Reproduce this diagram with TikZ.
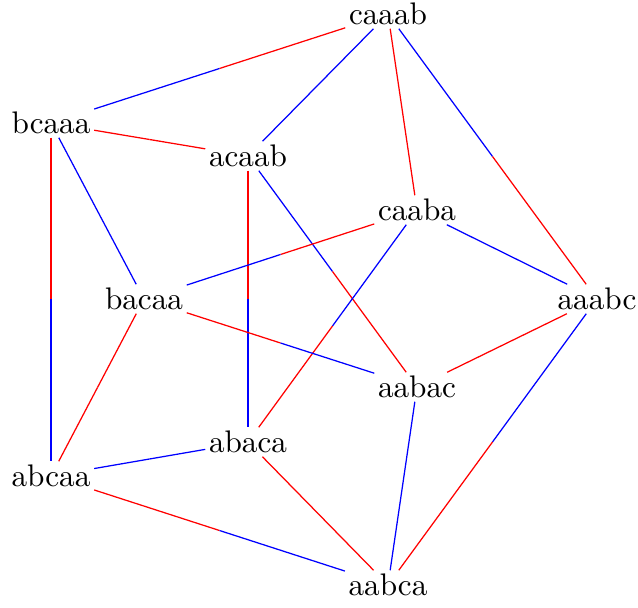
\documentclass[tikz,border=0pt]{standalone}
\usetikzlibrary{calc}
\tikzset{
  %% word node
  W/.style={inner sep=1pt, font=\normalsize},
  %% one half of an edge
  H/.style={line width=0.4pt, color=#1},
}
\begin{document}
\begin{tikzpicture}[x=0.3205pt, y=-0.3205pt]

%% ════════════════════════════════════════════════
%%  FRAME  (pixel coordinates, y grows downwards)
%% ════════════════════════════════════════════════
\useasboundingbox (0,0) rectangle (638,608);

%% ════════════════════════════════════════════════
%%  WORDS
%% ════════════════════════════════════════════════
\node[W] (caaab) at (388,  14) {caaab};
\node[W] (bcaaa) at ( 51, 123) {bcaaa};
\node[W] (acaab) at (248, 156) {acaab};
\node[W] (caaba) at (417, 210) {caaba};
\node[W] (bacaa) at (144, 299) {bacaa};
\node[W] (aaabc) at (597, 299) {aaabc};
\node[W] (aabac) at (417, 387) {aabac};
\node[W] (abaca) at (248, 442) {abaca};
\node[W] (abcaa) at ( 51, 476) {abcaa};
\node[W] (aabca) at (388, 585) {aabca};

%% ════════════════════════════════════════════════
%%  EDGES  (colour of the half at each end)
%% ════════════════════════════════════════════════
\foreach \p/\q/\cp/\cq in {
  caaab/bcaaa/red/blue,   caaab/acaab/blue/blue,
  caaab/caaba/red/red,    caaab/aaabc/blue/red,
  bcaaa/acaab/red/red,    bcaaa/bacaa/blue/blue,
  bcaaa/abcaa/red/blue,   acaab/abaca/red/blue,
  acaab/aabac/blue/red,   caaba/bacaa/red/blue,
  caaba/aaabc/blue/blue,  caaba/abaca/blue/red,
  bacaa/aabac/red/blue,   bacaa/abcaa/red/red,
  aaabc/aabac/red/red,    aaabc/aabca/blue/red,
  aabac/aabca/blue/blue,  abaca/abcaa/blue/blue,
  abaca/aabca/red/red,    abcaa/aabca/red/blue}
{
  \coordinate (m) at ($(\p)!0.5!(\q)$);
  \draw[H=\cp] (\p) -- (m);
  \draw[H=\cq] (m) -- (\q);
}

\end{tikzpicture}
\end{document}
